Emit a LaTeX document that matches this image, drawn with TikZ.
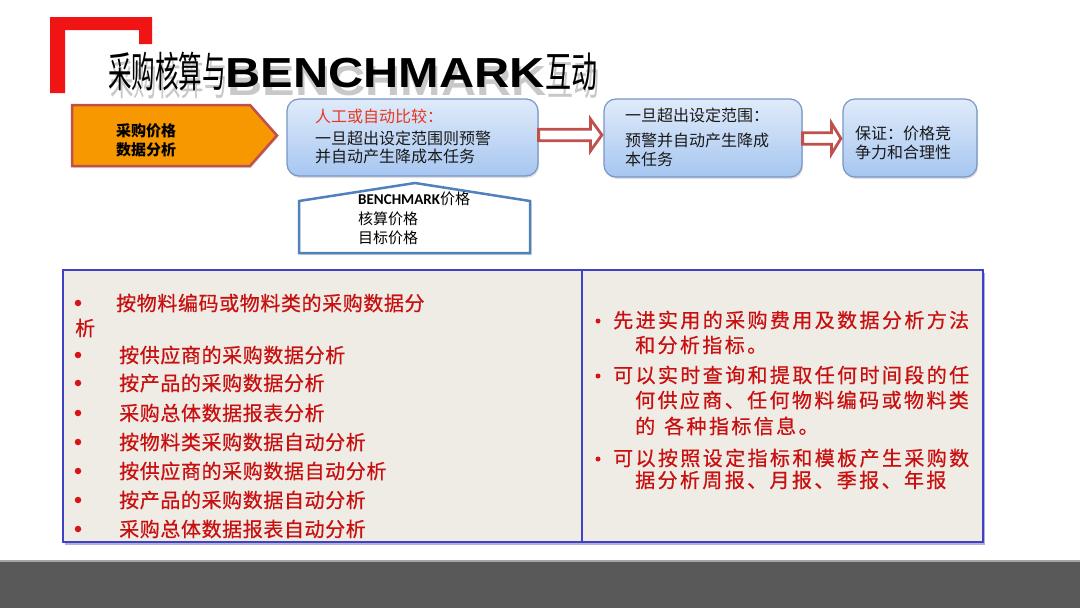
\documentclass[tikz,border=0pt]{standalone}
\usepackage{fontspec}
\usepackage{graphicx}
\setmainfont{Liberation Sans}
\newfontfamily\cjk{Noto Sans CJK SC}
\newfontfamily\cjkL[LetterSpace=3,FakeBold=0.6]{Noto Sans CJK SC}
\newfontfamily\cjkR[LetterSpace=12,FakeBold=0.6]{Noto Sans CJK SC}
\newfontfamily\calib{Carlito}
\usetikzlibrary{shadows,calc}
\definecolor{brRed}{RGB}{240,20,20}
\definecolor{txtRed}{RGB}{200,16,16}
\definecolor{bulRed}{RGB}{215,20,20}
\definecolor{hdRed}{RGB}{230,55,30}
\definecolor{arRed}{RGB}{192,80,77}
\definecolor{orFill}{RGB}{247,152,0}
\definecolor{bxTop}{RGB}{224,235,250}
\definecolor{bxBot}{RGB}{166,198,240}
\definecolor{bxLine}{RGB}{120,150,200}
\definecolor{hsLine}{RGB}{79,129,189}
\definecolor{tbFill}{RGB}{238,236,229}
\definecolor{tbLine}{RGB}{64,64,200}
\definecolor{barGray}{RGB}{89,89,89}
\tikzset{
  bluebox/.style={draw=bxLine, line width=1.2pt, rounded corners=12pt,
    top color=bxTop, bottom color=bxBot,
    drop shadow={shadow xshift=1pt, shadow yshift=-2pt, opacity=.25}},
  harrow/.style={draw=arRed, fill=white, line width=2.8pt, line join=miter},
  txt/.style={anchor=west, inner sep=0pt},
  boxtxt/.style={txt, font=\fontsize{16}{16}\selectfont\cjk, text=black!90},
  ltxt/.style={txt, font=\fontsize{20}{20}\selectfont\cjkL, text=txtRed},
  rtxt/.style={txt, font=\fontsize{20}{20}\selectfont\cjkR, text=txtRed},
  lbul/.style={circle, inner sep=0pt, minimum size=6.5pt, draw=none, fill=bulRed},
  rbul/.style={circle, inner sep=0pt, minimum size=5pt, draw=none, fill=bulRed},
}
\newcommand\fatarrow[4]{%
  \draw[harrow] let \p1=(#1), \p2=(#2) in
    (\x1,\y1+5.8pt) -- (\x2-#3,\y1+5.8pt) -- (\x2-#3,\y1+#4) -- (\x2-1.5pt,\y1)
    -- (\x2-#3,\y1-#4) -- (\x2-#3,\y1-5.8pt) -- (\x1,\y1-5.8pt) -- cycle;}
\newcommand\titletext{{\cjk\scalebox{0.56}[1]{采购核算与}}{\bfseries\scalebox{1.16}[1]{BENCHMARK}}{\cjk\scalebox{0.62}[1]{互动}}}
\begin{document}
\begin{tikzpicture}[x=1pt,y=-1pt]
\useasboundingbox (0,0) rectangle (1080,608);
\fill[white] (0,0) rectangle (1080,608);
% red bracket
\fill[brRed] (50,17) -- (152,17) -- (152,44) -- (139,44) -- (139,30) -- (65,30) -- (65,93) -- (50,93) -- cycle;
% title
\node[txt, font=\fontsize{42}{42}\selectfont, text=black!30, opacity=.7] (titlesh) at (110,79) {\titletext};
\node[txt, font=\fontsize{42}{42}\selectfont, text=black] (title) at (108,71) {\titletext};
% orange arrow
\draw[fill=orFill, draw=arRed, line width=2.5pt, line join=miter,
  drop shadow={shadow xshift=1pt, shadow yshift=-2pt, opacity=.2}]
  (72,105) -- (250,105) -- (277,135.5) -- (250,166) -- (72,166) -- cycle;
\node[txt, font=\fontsize{15}{19}\selectfont\cjk\bfseries, align=left] (oa) at (116,140) {采购价格\\数据分析};
% blue boxes
\node[bluebox, minimum width=251pt, minimum height=77pt] (b1) at (412.5,137.5) {};
\node[bluebox, minimum width=198pt, minimum height=78pt] (b2) at (703,138) {};
\node[bluebox, minimum width=134pt, minimum height=78pt] (b3) at (910,138) {};
\node[boxtxt, text=hdRed] (b1t1) at (315,116) {人工或自动比较：};
\node[boxtxt] (b1t2) at (315,138) {一旦超出设定范围则预警};
\node[boxtxt] (b1t3) at (315,156) {并自动产生降成本任务};
\node[boxtxt] (b2t1) at (625,115) {一旦超出设定范围：};
\node[boxtxt] (b2t2) at (625,140) {预警并自动产生降成};
\node[boxtxt] (b2t3) at (625,159) {本任务};
\node[boxtxt] (b3t1) at (855,133) {保证：价格竞};
\node[boxtxt] (b3t2) at (855,152) {争力和合理性};
% hollow arrows
\coordinate (a1s) at ($(b1.east)+(0,-2.5)$);
\coordinate (a1e) at ($(b2.west)+(0,-2.5)$);
\fatarrow{a1s}{a1e}{13pt}{16pt}
\coordinate (a2s) at ($(b2.east)+(0,0.5)$);
\coordinate (a2e) at ($(b3.west)+(0,0.5)$);
\fatarrow{a2s}{a2e}{11pt}{15.5pt}
% benchmark house
\draw[draw=hsLine, fill=white, line width=2.5pt, line join=miter,
  drop shadow={shadow xshift=1.5pt, shadow yshift=-2pt, opacity=.25}]
  (299,253) -- (299,201) -- (415,183) -- (530,201) -- (530,253) -- cycle;
\node[txt, font=\fontsize{15}{15}\selectfont] (h1) at (358,199) {{\calib\bfseries BENCHMARK}{\cjk 价格}};
\node[txt, font=\fontsize{15}{15}\selectfont\cjk] (h2) at (358,219) {核算价格};
\node[txt, font=\fontsize{15}{15}\selectfont\cjk] (h3) at (358,238) {目标价格};
% table
\draw[fill=tbFill, draw=tbLine, line width=1.3pt,
  drop shadow={shadow xshift=2pt, shadow yshift=-3pt, opacity=.3, fill=black!60!blue}]
  (63,270) rectangle (983,542);
\draw[tbLine, line width=1.1pt] (582,270) -- (582,542);
% left column
\node[ltxt] (l1) at (116,303) {按物料编码或物料类的采购数据分};
\node[ltxt] (l2) at (75,328) {析};
\node[ltxt] (l3) at (119,355) {按供应商的采购数据分析};
\node[ltxt] (l4) at (119,383) {按产品的采购数据分析};
\node[ltxt] (l5) at (119,413) {采购总体数据报表分析};
\node[ltxt] (l6) at (119,442) {按物料类采购数据自动分析};
\node[ltxt] (l7) at (119,471) {按供应商的采购数据自动分析};
\node[ltxt] (l8) at (119,500) {按产品的采购数据自动分析};
\node[ltxt] (l9) at (119,529) {采购总体数据报表自动分析};
\foreach \yy [count=\i] in {303,355,383,413,442,471,500,529}
  \node[lbul] (lb\i) at (78,\yy) {};
% right column
\node[rtxt] (r1) at (613,320) {先进实用的采购费用及数据分析方法};
\node[rtxt] (r2) at (635,345) {和分析指标。};
\node[rtxt] (r3) at (613,375) {可以实时查询和提取任何时间段的任};
\node[rtxt] (r4) at (635,400) {何供应商、任何物料编码或物料类};
\node[rtxt] (r5) at (635,426) {的\hspace{9pt}各种指标信息。};
\node[rtxt] (r6) at (613,458) {可以按照设定指标和模板产生采购数};
\node[rtxt] (r7) at (635,480) {据分析周报、月报、季报、年报};
\foreach \yy [count=\i] in {321,376,459}
  \node[rbul] (rb\i) at (598,\yy) {};
% bottom bar
\fill[barGray] (0,561) rectangle (1080,608);
\draw[black!35, line width=1.5pt] (0,561) -- (1080,561);
\end{tikzpicture}
\end{document}
